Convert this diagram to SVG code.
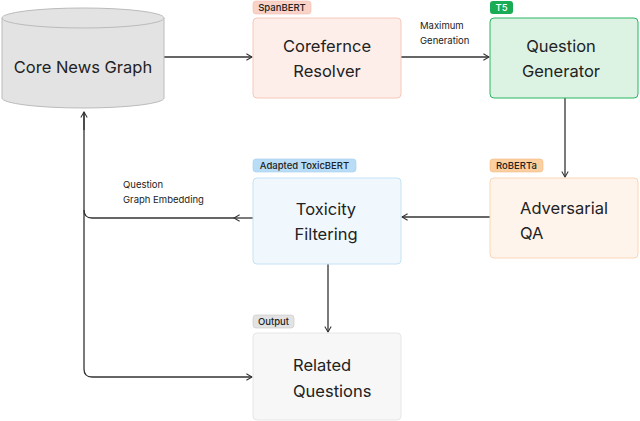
<svg xmlns="http://www.w3.org/2000/svg" width="640" height="421" viewBox="0 0 640 421">
<style>
text{font-family:Inter,"Noto Sans","Liberation Sans",sans-serif;fill:#222}
.big{font-size:16.5px}
.tag{font-size:9.5px;font-weight:500}
.lbl{font-size:9.5px}
.c{fill:none;stroke:#333;stroke-width:1.3}
</style>
<defs>
<marker id="ah" viewBox="0 0 10 10" refX="9" refY="5" markerWidth="8" markerHeight="8" orient="auto" markerUnits="userSpaceOnUse"><path d="M2,1 L9,5 L2,9" fill="none" stroke="#333" stroke-width="1.3"/></marker>
</defs>
<rect width="640" height="421" fill="#fff"/>
<g id="connectors">
<line class="c" x1="164" y1="57" x2="252" y2="57" marker-end="url(#ah)"/>
<line class="c" x1="401" y1="57" x2="489" y2="57" marker-end="url(#ah)"/>
<line class="c" x1="565" y1="98" x2="565" y2="177" marker-end="url(#ah)"/>
<line class="c" x1="490" y1="217" x2="402" y2="217" marker-end="url(#ah)"/>
<line class="c" x1="253" y1="218" x2="234" y2="218" marker-end="url(#ah)"/>
<path class="c" d="M234,218 H92 Q84,218 84,210"/>
<path class="c" d="M84,112 V369 Q84,377 92,377 H252" marker-end="url(#ah)"/>
<line class="c" x1="84" y1="130" x2="84" y2="112" marker-end="url(#ah)"/>
<line class="c" x1="328" y1="264" x2="328" y2="332" marker-end="url(#ah)"/>
<text class="lbl" x="420" y="29">Maximum</text>
<text class="lbl" x="420" y="44">Generation</text>
<text class="lbl" x="123" y="188">Question</text>
<text class="lbl" x="123" y="203">Graph Embedding</text>
</g>
<g id="core">
<path d="M2,18 V98 A81,10 0 0 0 164,98 V18" fill="#e3e3e3" stroke="#bbb"/>
<ellipse cx="83" cy="18" rx="81" ry="10" fill="#e3e3e3" stroke="#bbb"/>
<text class="big" x="83" y="73" text-anchor="middle">Core News Graph</text>
</g>
<g id="coref">
<rect x="253" y="1" width="58" height="13" rx="3" fill="#f9d2c8" stroke="#f3bcae" stroke-width="0.6"/>
<text class="tag" x="282" y="11" text-anchor="middle">SpanBERT</text>
<rect x="253" y="18" width="148" height="80" rx="4" fill="#fdeeea" stroke="#f5c8bb"/>
<text class="big" x="327" y="52" text-anchor="middle">Corefernce</text>
<text class="big" x="327" y="77" text-anchor="middle">Resolver</text>
</g>
<g id="qg">
<rect x="490" y="1" width="23" height="13" rx="3" fill="#1aab55"/>
<text class="tag" x="501.5" y="11" text-anchor="middle" style="fill:#fff">T5</text>
<rect x="490" y="18" width="148" height="80" rx="4" fill="#dcf3e4" stroke="#2ab560"/>
<text class="big" x="561" y="52" text-anchor="middle">Question</text>
<text class="big" x="561" y="77" text-anchor="middle">Generator</text>
</g>
<g id="tox">
<rect x="253" y="159" width="103" height="13" rx="3" fill="#b9ddf7" stroke="#a3cdee" stroke-width="0.6"/>
<text class="tag" x="304.5" y="169" text-anchor="middle">Adapted ToxicBERT</text>
<rect x="253" y="178" width="148" height="86" rx="4" fill="#f0f8fe" stroke="#c4e2f5"/>
<text class="big" x="326" y="215" text-anchor="middle">Toxicity</text>
<text class="big" x="326" y="240" text-anchor="middle">Filtering</text>
</g>
<g id="adv">
<rect x="490" y="159" width="53" height="13" rx="3" fill="#fbcf9f" stroke="#f3b984" stroke-width="0.6"/>
<text class="tag" x="516.5" y="169" text-anchor="middle">RoBERTa</text>
<rect x="490" y="178" width="148" height="80" rx="4" fill="#fff4ec" stroke="#f9d6b6"/>
<text class="big" x="520" y="214">Adversarial</text>
<text class="big" x="520" y="239">QA</text>
</g>
<g id="related">
<rect x="253" y="315" width="41" height="13" rx="3" fill="#e3e3e3" stroke="#c8c8c8" stroke-width="0.6"/>
<text class="tag" x="273.5" y="325" text-anchor="middle">Output</text>
<rect x="253" y="333" width="148" height="87" rx="4" fill="#f7f7f7" stroke="#e6e6e6"/>
<text class="big" x="293" y="371">Related</text>
<text class="big" x="293" y="397">Questions</text>
</g>
</svg>
